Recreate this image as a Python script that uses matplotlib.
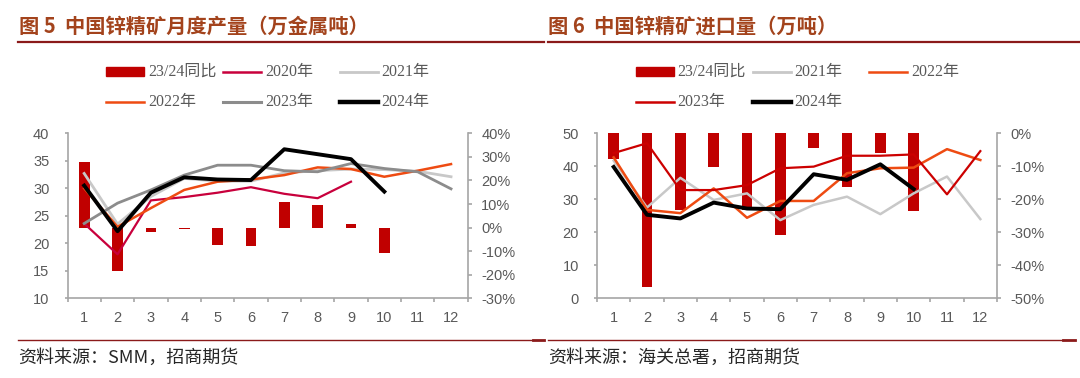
import matplotlib
matplotlib.use('Agg')
import matplotlib.pyplot as plt
from matplotlib.lines import Line2D
from matplotlib.patches import Rectangle
from matplotlib.ticker import FuncFormatter

plt.rcParams['font.family'] = ['Liberation Sans', 'Noto Sans CJK SC']
plt.rcParams['axes.unicode_minus'] = False

months = list(range(1, 13))

# 图5 中国锌精矿月度产量（万金属吨）
prod_yoy = [28.0, -18.4, -2.0, -0.8, -7.5, -8.0, 11.0, 9.5, 1.4, -10.8]
prod_2020 = [23.6, 18.0, 27.8, 28.4, 29.2, 30.2, 29.0, 28.2, 31.2]
prod_2021 = [32.7, 23.5, 28.5, 31.8, 31.3, 31.3, 32.8, 33.2, 33.5, 33.4, 33.1, 32.1]
prod_2022 = [30.0, 23.0, 26.4, 29.7, 31.2, 31.6, 32.4, 33.8, 33.5, 32.1, 33.2, 34.4]
prod_2023 = [23.6, 27.3, 29.7, 32.4, 34.2, 34.2, 33.2, 33.0, 34.5, 33.6, 33.0, 29.9]
prod_2024 = [30.5, 22.2, 29.2, 32.0, 31.6, 31.5, 37.1, 36.2, 35.3, 29.4]

# 图6 中国锌精矿进口量（万吨）
imp_yoy = [-7.9, -46.7, -23.1, -10.1, -23.3, -30.9, -4.5, -16.2, -6.0, -23.5]
imp_2021 = [41.7, 27.5, 36.5, 29.8, 31.8, 23.7, 28.3, 30.8, 25.5, 31.8, 36.9, 24.0]
imp_2022 = [42.7, 26.8, 25.8, 33.3, 24.4, 29.5, 29.5, 37.9, 39.4, 39.6, 45.2, 41.9]
imp_2023 = [44.0, 47.0, 32.8, 32.8, 34.3, 39.4, 39.9, 43.2, 43.2, 43.6, 31.5, 44.6]
imp_2024 = [39.8, 25.3, 24.2, 29.0, 27.2, 27.0, 37.6, 35.9, 40.6, 33.1]

BAR = '#C00000'
AXC = '#A6A6A6'
TXT = '#595959'
TITLE = '#A3431C'
RULE = '#8B1A1A'

W, H = 1080, 378
fig = plt.figure(figsize=(W / 100, H / 100), dpi=100)
fig.patch.set_facecolor('white')


def fx(px):
    return px / W


def fy(py):
    return 1 - py / H


def make_axes(x0, x1, ylim, ylim2, yticks, yticks2):
    ax = fig.add_axes([fx(x0), fy(298.3), (x1 - x0) / W, 165 / H])
    ax2 = ax.twinx()
    ax.set_zorder(ax2.get_zorder() + 1)
    ax.patch.set_visible(False)
    ax.set_xlim(0.5, 12.5)
    ax.set_ylim(*ylim)
    ax2.set_ylim(*ylim2)
    ax.set_yticks(yticks)
    ax2.set_yticks(yticks2)
    ax2.yaxis.set_major_formatter(FuncFormatter(lambda v, p: '%d%%' % v))
    ax.set_xticks(months)
    ax.set_xticks([m + 0.5 for m in range(0, 13)], minor=True)
    for s in ['top', 'right']:
        ax.spines[s].set_visible(False)
    for s in ['top', 'left', 'bottom']:
        ax2.spines[s].set_visible(False)
    for s in ['left', 'bottom']:
        ax.spines[s].set_color(AXC)
        ax.spines[s].set_linewidth(1.2)
    ax2.spines['right'].set_color(AXC)
    ax2.spines['right'].set_linewidth(1.2)
    ax.tick_params(axis='x', which='major', length=0, pad=9.5, labelsize=10.5, labelcolor=TXT)
    ax.tick_params(axis='x', which='minor', length=3, color=AXC, width=1.2)
    ax.tick_params(axis='y', length=2.5, color=AXC, width=1.2, pad=10.5, labelsize=10.5, labelcolor=TXT)
    ax2.tick_params(axis='y', length=2.8, color=AXC, width=1.2, pad=7, labelsize=10.5, labelcolor=TXT)
    return ax, ax2


# left chart
ax, ax2 = make_axes(67.5, 467.7, (10, 40), (-30, 40), range(10, 41, 5), range(-30, 41, 10))
ax2.bar(months[:len(prod_yoy)], prod_yoy, width=0.32, color=BAR)
ax.plot(months[:len(prod_2020)], prod_2020, color='#C8003C', lw=1.6)
ax.plot(months, prod_2021, color='#C8C8C8', lw=2.0)
ax.plot(months, prod_2022, color='#EE4B12', lw=1.8)
ax.plot(months, prod_2023, color='#8C8C8C', lw=2.0)
ax.plot(months[:len(prod_2024)], prod_2024, color='black', lw=2.8)

# right chart
bx, bx2 = make_axes(597.0, 997.0, (0, 50), (-50, 0), range(0, 51, 10), range(-50, 1, 10))
bx2.bar(months[:len(imp_yoy)], imp_yoy, width=0.32, color=BAR)
bx.plot(months, imp_2021, color='#C8C8C8', lw=1.8)
bx.plot(months, imp_2022, color='#EE4B12', lw=1.8)
bx.plot(months, imp_2023, color='#CC0000', lw=1.6)
bx.plot(months[:len(imp_2024)], imp_2024, color='black', lw=2.8)

# titles and rules
fig.text(fx(19), fy(26), '图 5  中国锌精矿月度产量（万金属吨）', va='center', ha='left',
         fontsize=14.6, fontweight='bold', color=TITLE, family=['Noto Sans CJK SC'])
fig.text(fx(548.5), fy(26), '图 6  中国锌精矿进口量（万吨）', va='center', ha='left',
         fontsize=14.6, fontweight='bold', color=TITLE, family=['Noto Sans CJK SC'])
for xa, xb in [(18, 544), (548, 1080)]:
    fig.add_artist(Line2D([fx(xa), fx(xb)], [fy(41.5), fy(41.5)], color=RULE, lw=1.6))
for xa, xb, xc in [(18, 533, 544), (548, 1063, 1075)]:
    fig.add_artist(Line2D([fx(xa), fx(xb)], [fy(340), fy(340)], color=RULE, lw=1.0))
    fig.add_artist(Line2D([fx(xb), fx(xc)], [fy(340), fy(340)], color=RULE, lw=2.0))

fig.text(fx(18), fy(358), '资料来源：SMM，招商期货', va='center', ha='left',
         fontsize=13, color='#262626', family=['Noto Sans CJK SC'])
fig.text(fx(548.5), fy(358), '资料来源：海关总署，招商期货', va='center', ha='left',
         fontsize=13, color='#262626', family=['Noto Sans CJK SC'])


# legends
def legend_item(x, y, label, color, lw=None):
    if lw is None:
        fig.add_artist(Rectangle((fx(x), fy(y + 4.6)), 38 / W, 9.2 / H, color=color,
                                 transform=fig.transFigure))
    else:
        fig.add_artist(Line2D([fx(x), fx(x + 38)], [fy(y), fy(y)], color=color, lw=lw))
    fig.text(fx(x + 42), fy(y), label, va='center', ha='left', fontsize=11.5, color=TXT,
             family=['Liberation Serif', 'Noto Sans CJK SC'])


r1, r2 = 71.6, 102
legend_item(106.4, r1, '23/24同比', BAR)
legend_item(223, r1, '2020年', '#C8003C', 1.8)
legend_item(339.5, r1, '2021年', '#C8C8C8', 2.0)
legend_item(106.4, r2, '2022年', '#EE4B12', 1.8)
legend_item(223, r2, '2023年', '#8C8C8C', 2.2)
legend_item(339.5, r2, '2024年', 'black', 3.2)

legend_item(635.7, r1, '23/24同比', BAR)
legend_item(752.5, r1, '2021年', '#C8C8C8', 2.0)
legend_item(869, r1, '2022年', '#EE4B12', 1.8)
legend_item(635.7, r2, '2023年', '#CC0000', 1.8)
legend_item(752.5, r2, '2024年', 'black', 3.2)

fig.savefig('out.png', dpi=100, facecolor='white')
